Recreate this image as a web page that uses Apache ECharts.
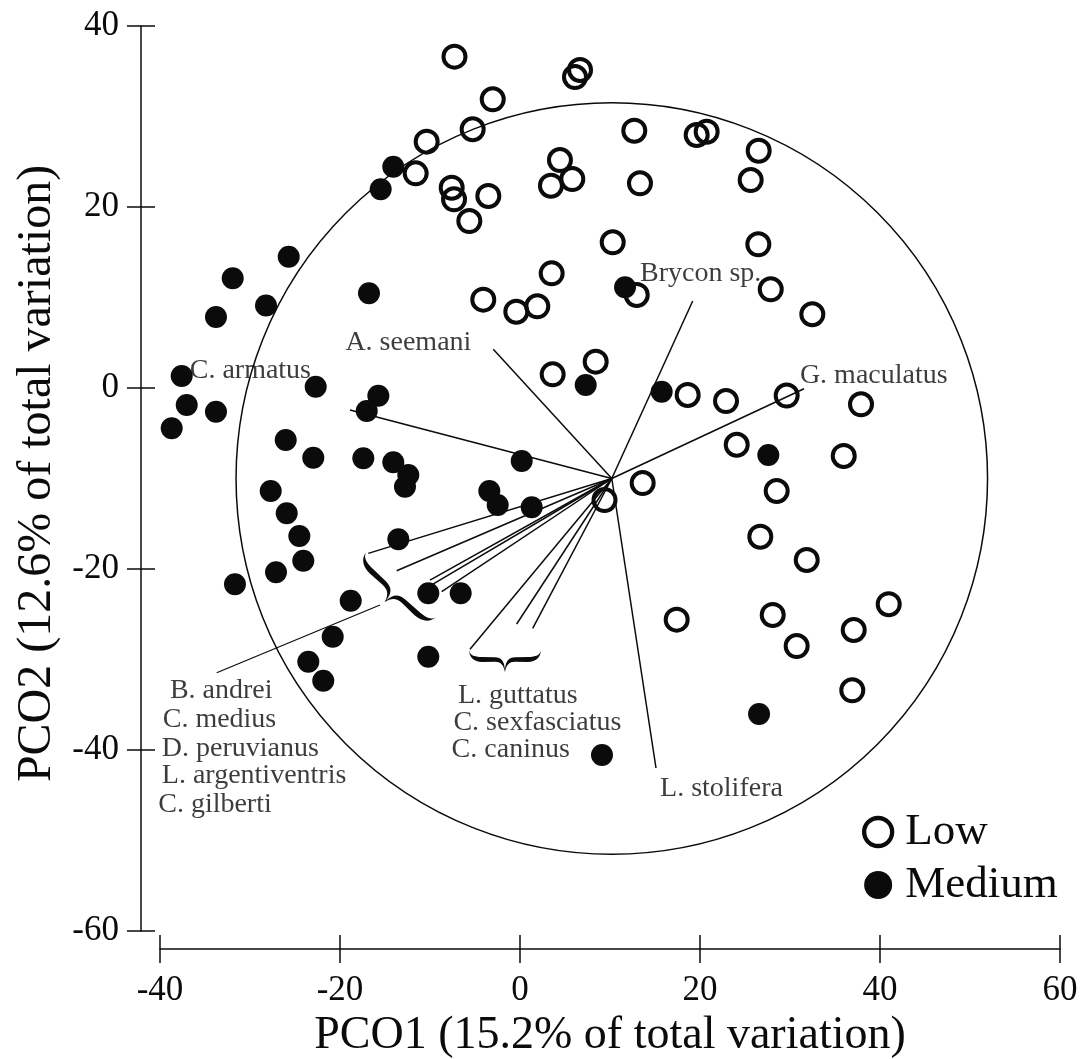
<!DOCTYPE html>
<html>
<head>
<meta charset="utf-8">
<script src="https://cdn.jsdelivr.net/npm/echarts@6/dist/echarts.min.js"></script>
<style>
  html, body { margin: 0; padding: 0; background: #fff; }
  #chart { width: 1086px; height: 1059px; }
</style>
</head>
<body>
<div id="chart"></div>
<script>
// PCO ordination of sites (scores) with species vectors (Pearson correlations)
const SERIF = '"Liberation Serif", "Times New Roman", serif';
const INK = '#0b0b0b';

const xTicks = [-40, -20, 0, 20, 40, 60];
const yTicks = [-60, -40, -20, 0, 20, 40];

// Site scores, group "Low"
const lowPoints = [
  [-7.28, 36.61], [6.67, 35.14], [6.11, 34.36], [-3.03, 31.90], [-5.26, 28.59],
  [-10.37, 27.22], [-11.59, 23.72], [-7.59, 22.13], [-7.33, 20.85], [-3.52, 21.22],
  [-5.63, 18.45], [-4.08, 9.76], [-0.41, 8.43], [1.92, 9.03], [3.63, 1.51],
  [8.41, 2.91], [12.70, 28.43], [19.63, 27.96], [20.74, 28.32], [26.52, 26.22],
  [4.44, 25.19], [3.44, 22.35], [5.81, 23.09], [13.33, 22.62], [25.63, 22.98],
  [10.30, 16.10], [26.48, 15.88], [3.52, 12.67], [12.97, 10.28], [27.86, 10.91],
  [32.48, 8.15], [18.63, -0.77], [22.89, -1.44], [29.63, -0.83], [37.89, -1.80],
  [24.08, -6.27], [35.97, -7.51], [13.63, -10.50], [9.39, -12.38], [28.52, -11.38],
  [26.70, -16.43], [31.86, -19.00], [17.41, -25.60], [28.08, -25.08], [30.74, -28.51],
  [37.08, -26.74], [40.97, -23.89], [36.92, -33.40]
];

// Site scores, group "Medium"
const mediumPoints = [
  [-14.08, 24.45], [-15.48, 21.96], [-25.70, 14.51], [-31.92, 12.12], [-28.22, 9.12],
  [-33.78, 7.85], [-16.78, 10.46], [-37.59, 1.33], [-37.03, -1.88], [-33.78, -2.62],
  [-38.70, -4.45], [-22.70, 0.14], [-15.74, -0.85], [-17.03, -2.54], [-26.03, -5.75],
  [-22.97, -7.70], [-17.41, -7.77], [-14.08, -8.21], [-12.41, -9.61], [-12.78, -10.91],
  [-27.70, -11.38], [-3.41, -11.38], [-2.48, -12.93], [0.19, -8.07], [1.30, -13.18],
  [-25.92, -13.85], [-24.52, -16.35], [-24.08, -19.08], [-27.11, -20.36], [-31.67, -21.69],
  [-18.81, -23.50], [-13.52, -16.72], [-10.19, -22.69], [-6.59, -22.69], [-20.81, -27.48],
  [-23.52, -30.24], [-21.86, -32.34], [-10.19, -29.69], [7.30, 0.33], [15.74, -0.41],
  [11.67, 11.13], [27.59, -7.40], [26.56, -36.02], [9.11, -40.55]
];

// Species vectors drawn from a common origin
const vectorOrigin = [10.2, -10.0];
const vectorSpecies = [
  'A. seemani', 'Brycon sp.', 'G. maculatus', 'C. armatus', 'L. stolifera',
  'B. andrei', 'C. medius', 'D. peruvianus', 'L. argentiventris', 'C. gilberti',
  'L. guttatus', 'C. sexfasciatus', 'C. caninus'
];
const vectorEnds = [
  [-2.97, 4.28], [19.19, 9.61], [31.56, -0.08], [-18.89, -2.43], [15.11, -41.99],
  [-16.86, -18.27], [-13.70, -20.19], [-10.00, -21.22], [-9.67, -21.66], [-8.70, -22.51],
  [-5.56, -28.87], [-0.37, -26.08], [1.41, -26.55]
];

// Correlation circle: centre x, centre y, radius
const corrCircle = [10.2, -10.0, 41.75];

// Species label anchors (left edge, vertical middle of each label)
const labelNames = [
  'Brycon sp.', 'G. maculatus', 'A. seemani', 'C. armatus', 'L. stolifera',
  'B. andrei', 'C. medius', 'D. peruvianus', 'L. argentiventris', 'C. gilberti',
  'L. guttatus', 'C. sexfasciatus', 'C. caninus'
];
const labelAnchors = [
  [13.33, 12.6], [31.1, 1.33], [-19.4, 4.97], [-36.7, 1.97], [15.56, -44.23],
  [-38.9, -33.4], [-39.7, -36.7], [-39.8, -39.8], [-39.8, -42.85], [-40.2, -46.0],
  [-6.9, -34.0], [-7.4, -37.0], [-7.6, -40.0]
];

// Leader from the grouped-species brace to its label block
const leaderLine = [[-33.7, -31.46], [-15.56, -23.98]];

// Curly braces grouping vector tips: anchor is the midpoint between the two brace ends
const braceAnchors = [[-13.22, -21.72], [-1.67, -28.95]];
const braceGeometry = [
  { angle: -43, length: 95, depth: 24 },
  { angle: 0, length: 72, depth: 22 }
];

// Filled brace outline in a 100 x 30 box, ends on top, cusp at the bottom centre
const BRACE_PATH =
  'M0 0 C1 7 7 9.5 18 9.5 L36 10 C45 10.5 49 15 50 27 C51 15 55 10.5 64 10 L82 9.5 ' +
  'C93 9.5 99 7 100 0 C99.6 10 93 16 82 16.5 L64 16 C56 16 52 20 50 30 ' +
  'C48 20 44 16 36 16 L18 16.5 C7 16 0.4 10 0 0 Z';

const chart = echarts.init(document.getElementById('chart'), null, { renderer: 'canvas' });

const axisLineStyle = { color: INK, width: 1.5 };

const xBase = {
  type: 'value', gridIndex: 0, position: 'bottom', offset: 18,
  min: xTicks[0], max: xTicks[xTicks.length - 1], interval: 20,
  splitLine: { show: false }
};
const yBase = {
  type: 'value', gridIndex: 0, position: 'left', offset: 19,
  min: yTicks[0], max: yTicks[yTicks.length - 1], interval: 20,
  splitLine: { show: false }
};

chart.setOption({
  animation: false,
  backgroundColor: '#fff',
  grid: { left: 160, right: 26, top: 26, bottom: 128, containLabel: false, outerBoundsMode: 'none' },
  xAxis: [
    Object.assign({}, xBase, {
      name: 'PCO1 (15.2% of total variation)',
      nameLocation: 'middle', nameGap: 60,
      nameTextStyle: { fontFamily: SERIF, fontSize: 46, color: INK },
      axisLine: { onZero: false, lineStyle: axisLineStyle },
      axisTick: { inside: false, length: 14, lineStyle: axisLineStyle },
      axisLabel: { fontFamily: SERIF, fontSize: 35, color: INK, margin: 24 }
    }),
    Object.assign({}, xBase, {
      axisLine: { show: false, onZero: false },
      axisTick: { inside: true, length: 14, lineStyle: axisLineStyle },
      axisLabel: { show: false }
    })
  ],
  yAxis: [
    Object.assign({}, yBase, {
      name: 'PCO2 (12.6% of total variation)',
      nameLocation: 'middle', nameGap: 80,
      nameTextStyle: { fontFamily: SERIF, fontSize: 48, color: INK, padding: [0, 0, 0, 10] },
      axisLine: { onZero: false, lineStyle: axisLineStyle },
      axisTick: { inside: false, length: 14, lineStyle: axisLineStyle },
      axisLabel: { fontFamily: SERIF, fontSize: 35, color: INK, margin: 22 }
    }),
    Object.assign({}, yBase, {
      axisLine: { show: false, onZero: false },
      axisTick: { inside: true, length: 14, lineStyle: axisLineStyle },
      axisLabel: { show: false }
    })
  ],
  legend: {
    orient: 'vertical',
    left: 857, top: 804,
    itemWidth: 28, itemHeight: 28, itemGap: 7,
    icon: 'circle',
    selectedMode: false,
    textStyle: { fontFamily: SERIF, fontSize: 45, color: INK, lineHeight: 46, padding: [0, 0, 0, 8] },
    data: [
      { name: 'Low', itemStyle: { color: 'rgba(0,0,0,0)', borderColor: INK, borderWidth: 4.3 } },
      { name: 'Medium', itemStyle: { color: INK, borderWidth: 0 } }
    ]
  },
  series: [
    {
      name: 'circle', type: 'custom', silent: true, z: 1,
      xAxisIndex: 0, yAxisIndex: 0,
      data: [corrCircle],
      renderItem: function (params, api) {
        const c = api.coord([api.value(0), api.value(1)]);
        const r = api.size([api.value(2), 0])[0];
        return {
          type: 'circle',
          shape: { cx: c[0], cy: c[1], r: r },
          style: { fill: 'none', stroke: INK, lineWidth: 1.5 }
        };
      }
    },
    {
      name: 'vectors', type: 'lines', coordinateSystem: 'cartesian2d', silent: true, z: 2,
      xAxisIndex: 0, yAxisIndex: 0,
      lineStyle: { color: INK, width: 1.5, opacity: 1, curveness: 0 },
      data: vectorEnds.map(function (end, i) {
        return { name: vectorSpecies[i], coords: [vectorOrigin, end] };
      }).concat([{ name: 'leader', coords: leaderLine, lineStyle: { width: 1.2 } }])
    },
    {
      name: 'braces', type: 'custom', silent: true, z: 2,
      xAxisIndex: 0, yAxisIndex: 0,
      data: braceAnchors,
      renderItem: function (params, api) {
        const g = braceGeometry[params.dataIndex];
        const c = api.coord([api.value(0), api.value(1)]);
        return {
          type: 'path',
          x: c[0], y: c[1],
          rotation: g.angle * Math.PI / 180,
          shape: { pathData: BRACE_PATH, x: -g.length / 2, y: 0, width: g.length, height: g.depth, layout: 'cover' },
          style: { fill: INK }
        };
      }
    },
    {
      name: 'Low', type: 'scatter', z: 3,
      xAxisIndex: 0, yAxisIndex: 0,
      symbol: 'circle', symbolSize: 22,
      itemStyle: { color: 'rgba(0,0,0,0)', borderColor: INK, borderWidth: 4, opacity: 1 },
      data: lowPoints
    },
    {
      name: 'Medium', type: 'scatter', z: 4,
      xAxisIndex: 0, yAxisIndex: 0,
      symbol: 'circle', symbolSize: 22,
      itemStyle: { color: INK, opacity: 1 },
      data: mediumPoints
    },
    {
      name: 'species labels', type: 'scatter', silent: true, z: 5, clip: false,
      xAxisIndex: 0, yAxisIndex: 0,
      symbolSize: 0,
      label: {
        show: true, position: 'right', distance: 0, formatter: '{b}',
        fontFamily: SERIF, fontSize: 28, color: INK
      },
      data: labelAnchors.map(function (p, i) { return { name: labelNames[i], value: p }; })
    }
  ]
});
</script>
</body>
</html>
